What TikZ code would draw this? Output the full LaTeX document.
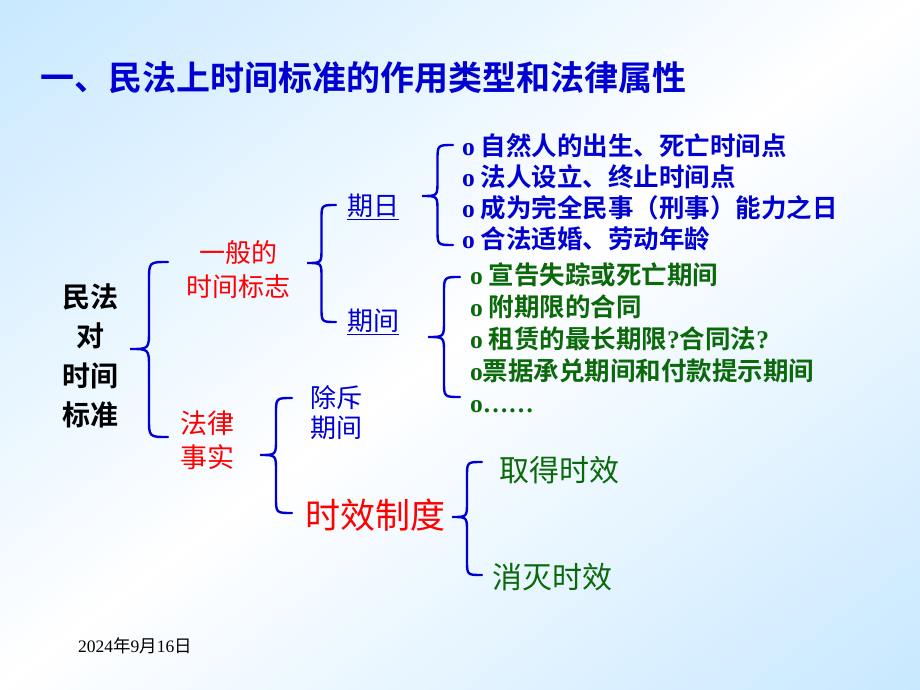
\documentclass[tikz,border=0pt]{standalone}
\usepackage{fontspec}
\setmainfont{Noto Sans CJK SC}[BoldFont={Noto Sans CJK SC Bold}]
\newfontfamily\tmsfam{Liberation Serif}
\usepackage{tikz}
\usetikzlibrary{matrix,calc}
\definecolor{bg-blue}{RGB}{200,232,255}
\definecolor{tx-blue}{RGB}{0,0,210}
\definecolor{tx-green}{RGB}{10,105,10}
\definecolor{tx-red}{RGB}{255,0,0}
\newcommand*\oo{{\tmsfam\bfseries o}}
\newcommand*\qm{{\tmsfam\bfseries ?}}
\newcommand*\fs[2]{\fontsize{#1}{#2}\selectfont}
\newcommand*\brc[3]{%
	\draw[brace line] let \p1=(#1), \p2=(#2), \p3=(#3), \n1={(\x1+\x2)/2}, \n2={(\x1-\x2)/2} in
	(\p1) .. controls (\n1,\y1) .. (\n1,\y1-\n2) -- (\n1,\y2+\n2) .. controls (\n1,\y2) .. (\p2)
	.. controls (\n1,\y2) .. (\n1,\y2-\n2) -- (\n1,\y3+\n2) .. controls (\n1,\y3) .. (\p3);}

\begin{document}
\begin{tikzpicture}[x=1pt,y=-1pt,
				brace line/.style={line width=2.4pt,tx-blue,line cap=round},
				title/.style={anchor=west,inner sep=0pt,text=tx-blue,font=\fs{34}{38}\bfseries},
				root/.style={align=center,inner sep=0pt,font=\fs{28}{39.5}\bfseries},
				lvl one/.style={align=center,inner sep=0pt,text=tx-red,font=\fs{#1}{34}},
				period/.style={anchor=west,inner sep=0pt,text=tx-blue,font=\fs{26}{30}},
				lvl two/.style={align=left,inner sep=0pt,text=tx-blue,font=\fs{26}{30}},
				lvl three/.style={inner sep=0pt,text=tx-green,font=\fs{30}{34}},
				items/.style={matrix of nodes,inner sep=0pt,matrix anchor=west,
					nodes={anchor=west,inner sep=0pt,text height=21pt,text depth=5pt,font=\fs{25.5}{29}\bfseries}}]
				\begin{scope}
				\clip (0,0) rectangle (920,690);
				\begin{scope}[shift={(460,345)},rotate=-53.13]
				\foreach \t [evaluate=\t as \p using {min(100,abs(\t)/5.52)}] in {-564,-552,...,564}
					\fill[bg-blue!\p!white] (\t-7,-600) rectangle (\t+7,600);
				\end{scope}
				\end{scope}
				\useasboundingbox (0,0) rectangle (920,690);
				\node[title] (title) at (40,78) {一、民法上时间标准的作用类型和法律属性};
				\node[root] (root) at (90,356) {民法\\对\\时间\\标准};
				\node[lvl one=26] (yiban) at (238,270) {一般的\\时间标志};
				\node[lvl one=27] (falv) at (207,440) {法律\\事实};
				\node[period] (riqi) at (347,207) {\underline{期日}};
				\node[period] (qijian) at (347,322) {\underline{期间}};
				\node[lvl two] (chuchi) at (336,413) {除斥\\期间};
				\node[lvl one=35] (shixiao) at (375,515) {时效制度};
				\node[lvl three] (qude) at (559,470) {取得时效};
				\node[lvl three] (xiaomie) at (552,577) {消灭时效};
				\matrix (rili) [items,row sep=4.7pt,nodes={text=tx-blue}] at (462,194)
				{
				\oo\ 自然人的出生、死亡时间点 \\
				\oo\ 法人设立、终止时间点 \\
				\oo\ 成为完全民事（刑事）能力之日 \\
				\oo\ 合法适婚、劳动年龄 \\
				};
				\matrix (qili) [items,row sep=6.2pt,nodes={text=tx-green}] at (470,340.5)
				{
				\oo\ 宣告失踪或死亡期间 \\
				\oo\ 附期限的合同 \\
				\oo\ 租赁的最长期限\qm 合同法\qm \\
				\oo 票据承兑期间和付款提示期间 \\
				\oo{\tmsfam\bfseries ……} \\
				};
				\node[anchor=west,inner sep=0pt,font=\fs{17.5}{19}] (date) at (78,646) {{\tmsfam 2024}年{\tmsfam 9}月{\tmsfam 16}日};
				\coordinate (b1t) at (168,262); \coordinate (b1m) at (130,349); \coordinate (b1b) at (168,437);
				\coordinate (b2t) at (336,205); \coordinate (b2m) at (307,263); \coordinate (b2b) at (336,322);
				\coordinate (b3t) at (453,145); \coordinate (b3m) at (422,196); \coordinate (b3b) at (453,245);
				\coordinate (b4t) at (460,277); \coordinate (b4m) at (428,337); \coordinate (b4b) at (460,397);
				\coordinate (b5t) at (292,398); \coordinate (b5m) at (260,455); \coordinate (b5b) at (292,513);
				\coordinate (b6t) at (482,462); \coordinate (b6m) at (452,517); \coordinate (b6b) at (482,575);
				\brc{b1t}{b1m}{b1b}
				\brc{b2t}{b2m}{b2b}
				\brc{b3t}{b3m}{b3b}
				\brc{b4t}{b4m}{b4b}
				\brc{b5t}{b5m}{b5b}
				\brc{b6t}{b6m}{b6b}
				\end{tikzpicture}
\end{document}
